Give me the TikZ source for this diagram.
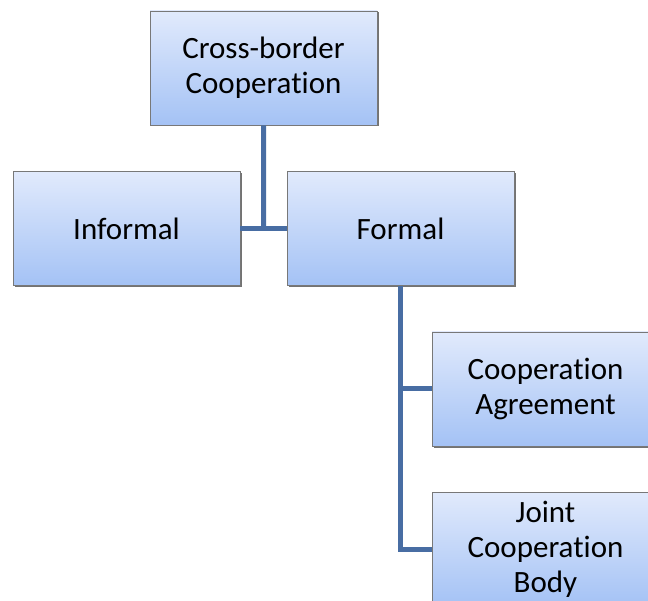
\documentclass[tikz,border=0pt]{standalone}
\usepackage{fontspec}
\setmainfont[Ligatures=NoCommon]{Carlito}
\usetikzlibrary{calc,positioning,shadows}
\definecolor{boxtop}{RGB}{225,234,252}
\definecolor{boxbot}{RGB}{164,194,245}
\definecolor{boxline}{RGB}{120,120,120}
\definecolor{linkblue}{RGB}{72,109,163}
\begin{document}
\begin{tikzpicture}[x=1pt,y=-1pt]
      \tikzstyle{bnode} = [draw=boxline, line width=0.6pt, rectangle, top color=boxtop, bottom color=boxbot,
        minimum width=227pt, minimum height=114pt, inner sep=0pt, align=center,
        font=\fontsize{31}{35}\selectfont,
        drop shadow={shadow xshift=1.5pt, shadow yshift=-1.5pt, fill=black!55, opacity=1}]
      \tikzstyle{link} = [draw=linkblue, line width=5pt]

      \useasboundingbox (0,0) rectangle (648,601);
      \clip (0,0) rectangle (648,601);

      \node[bnode] (cbc) at (263.5, 68) {Cross-border\\ Cooperation};
      \node[bnode] (informal) at (126.5, 228.5) {Informal};
      \node[bnode] (formal) at (400.5, 228.5) {Formal};
      \node[bnode] (agreement) at (545.5, 389) {Cooperation\\ Agreement};
      \node[bnode] (body) at (545.5, 549) {Joint\\ Cooperation\\ Body};

      \draw[link] (cbc.south) -- ($(informal.east)!0.5!(formal.west)$);
      \draw[link] (informal.east) -- (formal.west);

      \draw[link] (formal.south) |- (agreement.west);
      \draw[link] (formal.south) |- (body.west);
\end{tikzpicture}
\end{document}
